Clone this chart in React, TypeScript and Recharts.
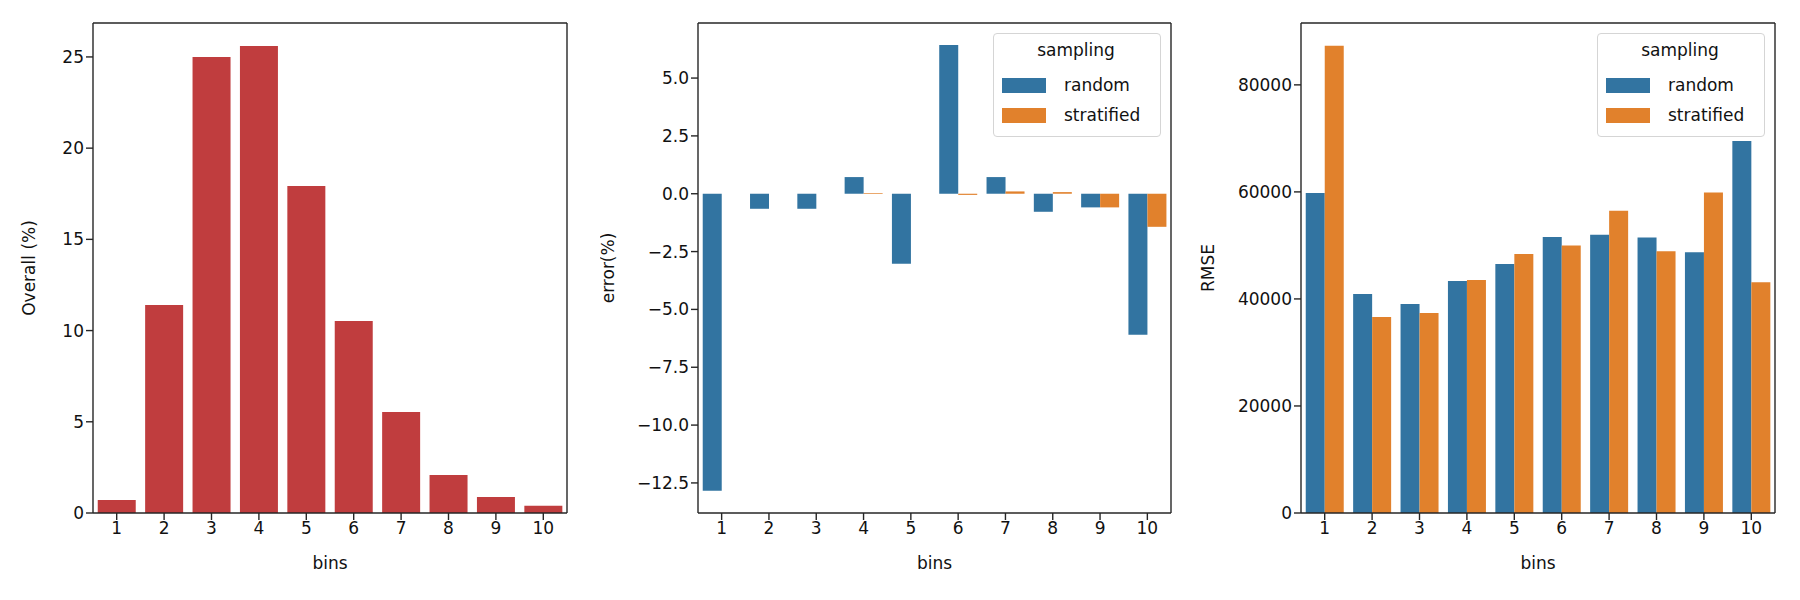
import { Bar, BarChart, Label, XAxis, YAxis } from 'recharts'

const bins = ['1', '2', '3', '4', '5', '6', '7', '8', '9', '10']
const overall = [0.71, 11.4, 25.0, 25.6, 17.93, 10.53, 5.54, 2.08, 0.88, 0.4]
const errorRandom = [-12.84, -0.65, -0.65, 0.72, -3.03, 6.43, 0.72, -0.78, -0.59, -6.1]
const errorStratified = [0, 0, 0, 0.03, 0, -0.05, 0.1, 0.07, -0.59, -1.43]
const rmseRandom = [59800, 40930, 39060, 43360, 46540, 51590, 52000, 51500, 48700, 69500]
const rmseStratified = [87290, 36640, 37380, 43550, 48410, 50000, 56500, 48900, 59900, 43100]
const errorTicks = [-12.5, -10, -7.5, -5, -2.5, 0, 2.5, 5]
const rmseTicks = [0, 20000, 40000, 60000, 80000]
const overallTicks = [0, 5, 10, 15, 20, 25]

const overallData = bins.map((b, i) => ({ bin: b, overall: overall[i] }))
const errorData = bins.map((b, i) => ({ bin: b, random: errorRandom[i], stratified: errorStratified[i] }))
const rmseData = bins.map((b, i) => ({ bin: b, random: rmseRandom[i], stratified: rmseStratified[i] }))

const INK = '#262626'
const BLUE = '#3274a1'
const ORANGE = '#e1812c'
const RED = '#c03d3e'
const font = { fontFamily: 'DejaVu Sans', fontSize: 17, fill: '#111' }
const axisLine = { stroke: INK, strokeWidth: 1.4 }
const minus = (v: number) => (v < 0 ? '\u2212' + Math.abs(v).toFixed(1) : v.toFixed(1))

function SamplingLegend({ left }: { left: number }) {
  const row = (color: string, text: string) => (
    <div style={{ display: 'flex', alignItems: 'center', height: 30 }}>
      <div style={{ width: 44, height: 15, background: color, marginRight: 18 }} />
      <span>{text}</span>
    </div>
  )
  return (
    <div
      style={{
        position: 'absolute',
        left,
        top: 33,
        border: '1px solid #d5d5d5',
        borderRadius: 4,
        background: 'rgba(255,255,255,0.85)',
        padding: '6px 10px 6px 8px',
        fontFamily: 'DejaVu Sans',
        fontSize: 17,
        color: '#111',
        width: 148,
      }}
    >
      <div style={{ textAlign: 'center', height: 30 }}>sampling</div>
      {row(BLUE, 'random')}
      {row(ORANGE, 'stratified')}
    </div>
  )
}

// top and right spines, drawn as blank axes
function frame() {
  return [
    <XAxis key="t" xAxisId="top" dataKey="bin" orientation="top" tick={false} tickLine={false} axisLine={axisLine} height={1} />,
    <YAxis key="r" yAxisId="right" orientation="right" domain={[0, 1]} tick={false} tickLine={false} axisLine={axisLine} width={1} />,
  ]
}

export default function App() {
  const chartBox = (left: number) => ({ position: 'absolute' as const, left, top: 0 })
  return (
    <div style={{ position: 'fixed', left: 0, top: 0, width: 1800, height: 600, background: '#fff' }}>
      <div style={chartBox(0)}>
        <BarChart width={600} height={600} data={overallData} margin={{ top: 22, right: 32, left: 23, bottom: 27 }} barCategoryGap="10%">
          <XAxis dataKey="bin" tick={font} tickLine={axisLine} axisLine={axisLine} tickSize={7} height={60}>
            <Label value="bins" position="insideBottom" offset={4} style={font} />
          </XAxis>
          <YAxis domain={[0, 26.86]} ticks={overallTicks} tick={font} tickLine={axisLine} axisLine={axisLine} tickSize={7} width={70}>
            <Label value="Overall (%)" angle={-90} position="insideLeft" offset={6} style={{ ...font, textAnchor: 'middle' }} />
          </YAxis>
          {frame()}
          <Bar dataKey="overall" fill={RED} isAnimationActive={false} />
        </BarChart>
      </div>

      <div style={chartBox(600)}>
        <BarChart width={600} height={600} data={errorData} margin={{ top: 22, right: 28, left: 2, bottom: 27 }} barCategoryGap="10%" barGap={0}>
          <XAxis dataKey="bin" tick={font} tickLine={axisLine} axisLine={axisLine} tickSize={7} height={60}>
            <Label value="bins" position="insideBottom" offset={4} style={font} />
          </XAxis>
          <YAxis domain={[-13.8, 7.38]} ticks={errorTicks} tickFormatter={minus} tick={font} tickLine={axisLine} axisLine={axisLine} tickSize={7} width={96}>
            <Label value="error(%)" angle={-90} position="insideLeft" offset={6} style={{ ...font, textAnchor: 'middle' }} />
          </YAxis>
          {frame()}
          <Bar dataKey="random" fill={BLUE} isAnimationActive={false} />
          <Bar dataKey="stratified" fill={ORANGE} isAnimationActive={false} />
        </BarChart>
        <SamplingLegend left={393} />
      </div>

      <div style={chartBox(1200)}>
        <BarChart width={600} height={600} data={rmseData} margin={{ top: 22, right: 24, left: 2, bottom: 27 }} barCategoryGap="10%" barGap={0}>
          <XAxis dataKey="bin" tick={font} tickLine={axisLine} axisLine={axisLine} tickSize={7} height={60}>
            <Label value="bins" position="insideBottom" offset={4} style={font} />
          </XAxis>
          <YAxis domain={[0, 91560]} ticks={rmseTicks} tick={font} tickLine={axisLine} axisLine={axisLine} tickSize={7} width={99}>
            <Label value="RMSE" angle={-90} position="insideLeft" offset={6} style={{ ...font, textAnchor: 'middle' }} />
          </YAxis>
          {frame()}
          <Bar dataKey="random" fill={BLUE} isAnimationActive={false} />
          <Bar dataKey="stratified" fill={ORANGE} isAnimationActive={false} />
        </BarChart>
        <SamplingLegend left={397} />
      </div>
    </div>
  )
}
